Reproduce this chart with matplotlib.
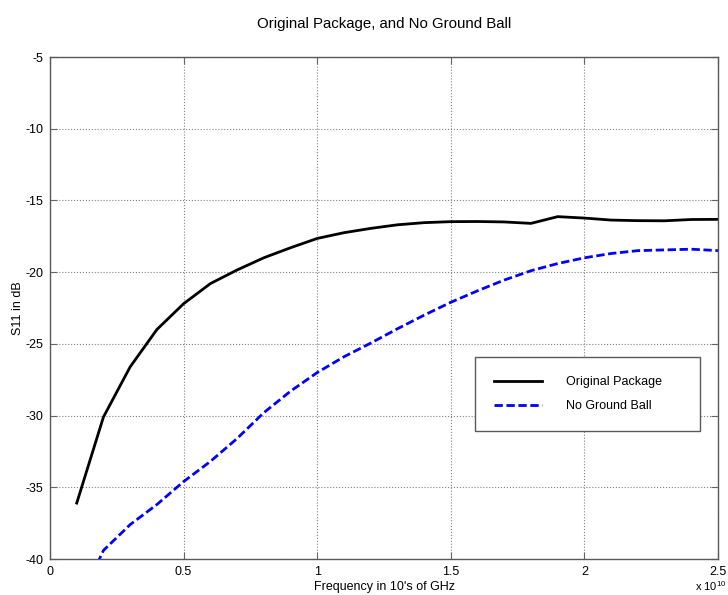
import numpy as np
import matplotlib.pyplot as plt
from matplotlib.ticker import FuncFormatter, MultipleLocator

plt.rcParams['font.family'] = ['Liberation Sans', 'DejaVu Sans']
plt.rcParams['mathtext.fontset'] = 'custom'
plt.rcParams['mathtext.rm'] = 'Liberation Sans'
plt.rcParams['axes.unicode_minus'] = False

# frequency sweep in Hz, 1 GHz steps
freq = np.arange(1, 26) * 1e9

s11_original = [-36.1, -30.1, -26.6, -24.0, -22.2, -20.8, -19.85, -19.0, -18.3, -17.65,
                -17.25, -16.95, -16.7, -16.55, -16.48, -16.47, -16.5, -16.6, -16.13, -16.23,
                -16.37, -16.41, -16.42, -16.33, -16.32]
s11_no_ground = [-43.4, -39.4, -37.6, -36.2, -34.6, -33.2, -31.6, -29.8, -28.3, -27.0,
                 -25.9, -24.95, -23.95, -23.0, -22.1, -21.3, -20.55, -19.9, -19.4, -19.0,
                 -18.7, -18.5, -18.45, -18.4, -18.5]

fig = plt.figure(figsize=(7.28, 5.95), dpi=100)
ax = fig.add_axes([0.0687, 0.0605, 0.9176, 0.8437])

ax.plot(freq, s11_original, color='black', lw=2.0, label='Original Package')
ax.plot(freq, s11_no_ground, color='blue', lw=2.0, dashes=(3, 1.3), label='No Ground Ball')

ax.set_xlim(0, 2.5e10)
ax.set_ylim(-40, -5)
ax.xaxis.set_major_locator(MultipleLocator(0.5e10))
ax.yaxis.set_major_locator(MultipleLocator(5))
ax.xaxis.set_major_formatter(FuncFormatter(lambda v, p: f'{v / 1e10:g}'))

ax.grid(True, color='0.5', linestyle=':', lw=0.8)
ax.tick_params(direction='in', top=True, right=True, length=5, pad=5, labelsize=9, color='0.4')
for s in ax.spines.values():
    s.set_color('0.35')
    s.set_linewidth(1)

ax.set_title('Original Package, and No Ground Ball', fontsize=10.8, pad=21)
ax.set_xlabel("Frequency in 10's of GHz", fontsize=9, labelpad=2)
ax.set_ylabel('S11 in dB', fontsize=9)
ax.yaxis.set_label_coords(-0.039, 0.5)
fig.text(0.998, 0.004, r'x 10$^{10}$', ha='right', va='bottom', fontsize=8)

leg = ax.legend(loc='upper left', bbox_to_anchor=(0.636, 0.259, 0.337, 0.143), mode='expand',
                fancybox=False, edgecolor='0.35', framealpha=1, fontsize=9, handlelength=3.9,
                handletextpad=1.9, borderpad=1.5, labelspacing=1.0, borderaxespad=0)
leg.get_frame().set_linewidth(1)

fig.savefig('out.png', dpi=100)
